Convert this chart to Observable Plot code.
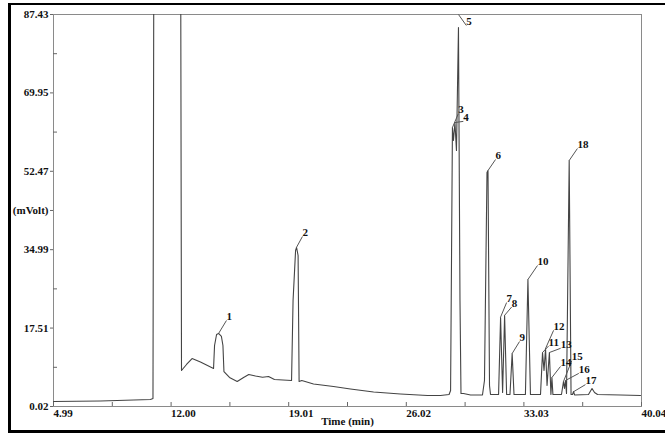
<!DOCTYPE html>
<html><head><meta charset="utf-8">
<script src="https://cdn.jsdelivr.net/npm/d3@7"></script>
<script src="https://cdn.jsdelivr.net/npm/@observablehq/plot@0.6"></script>
<style>
html,body{margin:0;padding:0;background:#fff;overflow:hidden;}
#wrap{position:relative;width:665px;height:433px;overflow:hidden;}
#border{position:absolute;left:8px;top:3px;width:700px;height:425px;border-left:3px solid #000;border-top:2px solid #000;border-bottom:3px solid #000;pointer-events:none;}
</style></head><body>
<div id="wrap"><div id="chart"></div><div id="border"></div></div>
<script>
// Chromatogram trace (time in min, signal in mV)
const traceTime = [4.99,7.79,10.77,10.92,10.98,12.56,12.62,12.92,13.25,13.75,14.53,14.59,14.71,14.83,15.00,15.09,15.15,15.48,15.94,16.32,16.63,17.03,17.45,17.81,18.16,19.18,19.27,19.42,19.48,19.57,19.63,19.79,20.49,21.68,22.69,24.07,25.67,27.28,28.06,28.57,28.66,28.77,28.83,28.92,29.01,29.13,29.22,29.28,29.43,29.85,30.56,30.68,30.83,30.89,30.98,31.04,31.52,31.64,31.76,31.88,32.00,32.20,32.33,32.44,33.12,33.27,33.42,34.02,34.14,34.23,34.32,34.41,34.55,34.64,34.70,34.76,35.27,35.39,35.45,35.51,35.57,35.73,35.84,35.93,35.99,36.05,36.88,37.09,37.24,37.42,38.79,39.98];
const traceSignal = [1.13,1.25,1.58,1.80,120,120,8.05,9.39,10.72,9.94,8.49,13.62,16.07,16.30,15.63,13.62,7.82,6.49,5.59,6.49,7.16,6.82,6.55,6.71,6.04,5.82,23.66,34.80,35.47,33.69,5.59,5.82,5.04,4.48,3.92,3.25,2.81,2.47,2.47,2.70,3.59,62.23,59.33,63.34,57.10,84.53,23.66,2.92,2.92,2.58,2.58,5.82,52.20,52.64,4.70,2.70,2.70,19.87,3.14,20.31,2.70,2.70,11.84,2.70,2.70,28.34,2.70,2.70,12.06,8.05,12.95,4.70,12.06,2.70,6.49,2.70,2.70,5.60,4.03,5.82,2.92,54.87,2.70,2.70,3.36,2.60,2.70,4.03,3.14,2.70,2.58,2.47];

// Peak annotations
const peakLabels = ["1","2","3","4","5","6","7","8","9","10","11","12","13","14","15","16","17","18"];
const leaderFromTime   = [14.83,19.47,28.77,28.92,29.13,30.89,31.63,31.87,32.33,33.27,34.14,34.32,34.55,34.70,35.39,35.51,36.01,35.73];
const leaderFromSignal = [16.30,35.47,62.23,63.34,87.43,52.64,19.87,20.31,11.84,28.34,12.06,12.95,12.06,6.49,5.60,5.82,3.36,54.87];
const leaderToTime     = [15.30,19.83,29.12,29.42,29.60,31.34,32.00,32.30,32.77,33.84,34.50,34.80,35.22,35.21,35.88,36.30,36.70,36.22];
const leaderToSignal   = [19.20,37.93,65.30,63.60,84.98,55.10,23.20,22.20,14.51,31.46,13.50,17.00,13.00,8.94,10.20,7.40,4.90,57.55];

// Axes
const xTickValues = [4.99,12.00,19.01,26.02,33.03,40.04];
const xMinorTickValues = [4.99,8.495,12.00,15.505,19.01,22.515,26.02,29.525,33.03,36.535,40.04];
const yTickValues = [0.02,17.51,34.99,43.73,52.47,69.95,87.43];
const yTickLabels = ["0.02","17.51","34.99","(mVolt)","52.47","69.95","87.43"];
const yMinorTickValues = [8.76,26.25,61.21,78.69];
const xTitle = "Time (min)";

const trace = traceTime.map((t,i)=>({t, v: traceSignal[i]}));
const idx = peakLabels.map((_,i)=>i);

const chart = Plot.plot({
  width: 665, height: 433,
  marginLeft: 53, marginRight: 24, marginTop: 14, marginBottom: 27,
  style: {fontFamily: "'Liberation Serif', 'Times New Roman', serif", fontWeight: "bold", fontSize: "11px", color: "#111", background: "transparent"},
  x: {domain: [4.99, 40.04]},
  y: {domain: [0.02, 87.43]},
  marks: [
    Plot.frame({stroke: "#8a8a8a", strokeWidth: 1}),
    Plot.axisX({ticks: xMinorTickValues, tickSize: 4, dy: -4, tickFormat: () => "", label: null, stroke: "#666"}),
    Plot.axisX({ticks: xTickValues, tickSize: 0, tickPadding: 3, textAnchor: "start", tickFormat: d => d.toFixed(2), label: null, fontWeight: "bold"}),
    Plot.axisY({ticks: yTickValues, tickSize: 3, tickPadding: 2, tickFormat: d => yTickLabels[yTickValues.indexOf(d)], label: null, stroke: "#666", fontWeight: "bold"}),
    Plot.axisY({ticks: yMinorTickValues, tickSize: 4, dx: 4, tickFormat: () => "", label: null, stroke: "#666"}),
    Plot.line(trace, {x: "t", y: "v", stroke: "#444", strokeWidth: 1.1, clip: true}),
    Plot.link(idx, {x1: i => leaderFromTime[i], y1: i => leaderFromSignal[i], x2: i => leaderToTime[i], y2: i => leaderToSignal[i], stroke: "#555", strokeWidth: 1}),
    Plot.text(idx, {x: i => leaderToTime[i], y: i => leaderToSignal[i], text: i => peakLabels[i], textAnchor: "start", dy: -4, fill: "#111", fontWeight: "bold"}),
    Plot.text([xTitle], {frameAnchor: "bottom", dy: 18, text: d => d, fill: "#111", fontWeight: "bold"})
  ]
});
document.getElementById("chart").appendChild(chart);
</script>
</body></html>
